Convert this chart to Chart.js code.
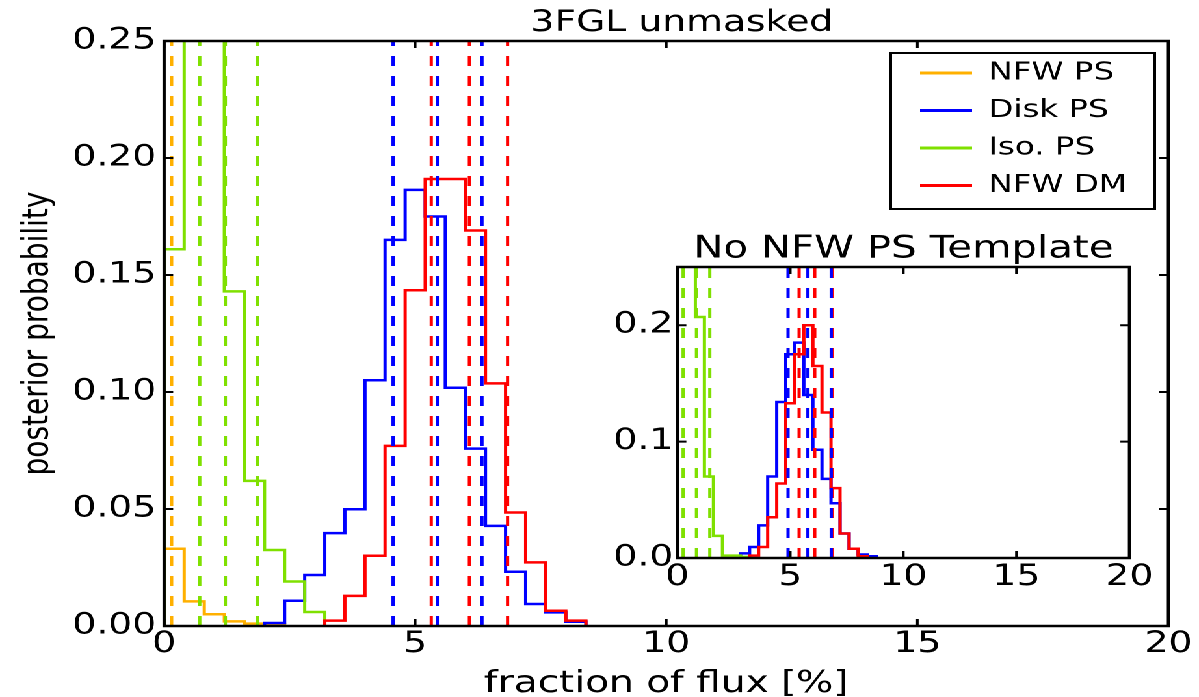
<!DOCTYPE html>
<html>
<head>
<meta charset="utf-8">
<title>3FGL unmasked</title>
<script src="https://cdn.jsdelivr.net/npm/chart.js@4/dist/chart.umd.min.js"></script>
<style>
  html, body { margin: 0; padding: 0; background: #fff; overflow: hidden; }
  /* the figure is drawn narrow and stretched sideways, like the source image */
  #stretch { position: relative; width: 922px; height: 697px; transform: scaleX(1.3004); transform-origin: 0 0; }
  #mainChart { position: absolute; left: 0; top: 0; }
  #insetChart { position: absolute; left: 460px; top: 228px; }
</style>
</head>
<body>
<div id="stretch">
  <canvas id="mainChart" width="922" height="697"></canvas>
  <canvas id="insetChart" width="432" height="372"></canvas>
</div>
<script>
const seriesNames = ['NFW PS', 'Disk PS', 'Iso. PS', 'NFW DM'];
const seriesColors = ['#ffb000', '#0000ff', '#7fe000', '#ff0000'];
const binWidth = 0.4;

// main panel: histogram heights per bin, first bin starts at *Start
const nfwPsStart = 0.0;
const nfwPsHist = [0.033, 0.0105, 0.005, 0.002, 0.001, 0.0008];
const diskPsStart = 2.0;
const diskPsHist = [0.0013, 0.0108, 0.0218, 0.0397, 0.0499, 0.105, 0.165, 0.1864, 0.175, 0.1018,
                    0.0758, 0.0428, 0.0232, 0.0094, 0.0058, 0.0018];
const isoPsStart = 0.0;
const isoPsHist = [0.161, 0.3, 0.3, 0.143, 0.062, 0.0325, 0.019, 0.006];
const nfwDmStart = 3.2;
const nfwDmHist = [0.0023, 0.0129, 0.030, 0.077, 0.1435, 0.191, 0.191, 0.169, 0.1037, 0.0485,
                   0.0272, 0.0065, 0.0023];

// dashed lines (median and 68% band)
const nfwPsLines = [0.15];
const diskPsLines = [4.56, 5.44, 6.33];
const isoPsLines = [0.71, 1.22, 1.86];
const nfwDmLines = [5.32, 6.08, 6.84];

// inset: no NFW PS template
const insetDiskStart = 2.8;
const insetDiskHist = [0.004, 0.0095, 0.028, 0.07, 0.134, 0.175, 0.185, 0.14, 0.093, 0.068,
                       0.047, 0.021, 0.008, 0.003, 0.0015];
const insetIsoStart = 0.0;
const insetIsoHist = [0.3, 0.3, 0.207, 0.07, 0.019, 0.002, 0.002, 0.001];
const insetDmStart = 3.2;
const insetDmHist = [0.002, 0.0095, 0.035, 0.064, 0.133, 0.175, 0.20, 0.165, 0.125, 0.06,
                     0.021, 0.008, 0.0015];
const insetDiskLines = [4.9, 5.78, 6.81];
const insetIsoLines = [0.26, 0.85, 1.44];
const insetDmLines = [5.39, 6.08, 6.84];

const mainYMax = 0.25;
const insetYMax = 0.25;

Chart.defaults.font.family = 'DejaVu Sans';
Chart.defaults.color = '#000';

function stepPoints(start, hist) {
    const pts = [{ x: start, y: 0 }];
    hist.forEach((h, i) => {
        pts.push({ x: start + i * binWidth, y: h });
        pts.push({ x: start + (i + 1) * binWidth, y: h });
    });
    pts.push({ x: start + hist.length * binWidth, y: 0 });
    return pts;
}

function histSet(start, hist, color, order) {
    return {
        data: stepPoints(start, hist),
        borderColor: color,
        backgroundColor: color,
        borderWidth: 2.5,
        pointRadius: 0,
        fill: false,
        tension: 0,
        order: order
    };
}

function dashedSets(lines, color, yMax) {
    return lines.map(x => ({
        data: [{ x: x, y: 0 }, { x: x, y: yMax }],
        borderColor: color,
        borderWidth: 2.5,
        borderDash: [10, 10],
        pointRadius: 0,
        fill: false,
        order: 0
    }));
}

// box round the plot with ticks pointing inwards
const frame = {
    id: 'frame',
    afterDraw(chart) {
        const { ctx, chartArea: a, scales: { x, y } } = chart;
        const len = 7;
        ctx.save();
        ctx.strokeStyle = '#000';
        ctx.lineWidth = 2.5;
        ctx.strokeRect(a.left, a.top, a.right - a.left, a.bottom - a.top);
        ctx.lineWidth = 2;
        ctx.beginPath();
        x.ticks.forEach(t => {
            const px = x.getPixelForValue(t.value);
            ctx.moveTo(px, a.bottom); ctx.lineTo(px, a.bottom - len);
            ctx.moveTo(px, a.top); ctx.lineTo(px, a.top + len);
        });
        y.ticks.forEach(t => {
            const py = y.getPixelForValue(t.value);
            ctx.moveTo(a.left, py); ctx.lineTo(a.left + len, py);
            ctx.moveTo(a.right, py); ctx.lineTo(a.right - len, py);
        });
        ctx.stroke();
        ctx.restore();
    }
};

// legend sits in the upper right of the plot, with a frame; title a bit right of centre
const legendBox = { left: 685, top: 53, right: 888, bottom: 209 };
const titleShift = 12;
const placeBoxes = {
    id: 'placeBoxes',
    beforeDraw(chart) {
        const lg = chart.legend;
        lg.left = legendBox.left + 10;
        lg.right = legendBox.right;
        lg.top = legendBox.top - 5;
        lg.bottom = legendBox.bottom + 100;
        const tb = chart.titleBlock;
        tb.left = chart.chartArea.left + titleShift;
        tb.right = chart.chartArea.right + titleShift;
    },
    afterDraw(chart) {
        const ctx = chart.ctx;
        ctx.save();
        ctx.strokeStyle = '#000';
        ctx.lineWidth = 2;
        ctx.strokeRect(legendBox.left, legendBox.top, legendBox.right - legendBox.left, legendBox.bottom - legendBox.top);
        ctx.restore();
    }
};

function axisOptions(min, max, step, digits, fontSize, pad, fit) {
    return {
        type: 'linear',
        min: min,
        max: max,
        ticks: {
            stepSize: step,
            includeBounds: false,
            font: { size: fontSize, lineHeight: 1 },
            padding: pad,
            maxRotation: 0,
            autoSkip: false,
            callback: v => digits === null ? String(v) : v.toFixed(digits)
        },
        grid: { display: false, drawTicks: false },
        border: { display: false },
        afterFit: fit
    };
}

const mainX = axisOptions(0, 20, 5, null, 29, 4, s => { s.height = 71; });
mainX.title = { display: true, text: 'fraction of flux [%]', font: { size: 30, lineHeight: 1 }, padding: { top: 0, bottom: -2 } };
const mainY = axisOptions(0, mainYMax, 0.05, 2, 29, 6, s => { s.width = 126.2; });
mainY.title = { display: true, text: 'posterior probability', font: { size: 28, lineHeight: 1 }, padding: { top: 15, bottom: 0 } };

new Chart(document.getElementById('mainChart'), {
    type: 'line',
    data: {
        datasets: [
            histSet(nfwPsStart, nfwPsHist, seriesColors[0], 4),
            histSet(diskPsStart, diskPsHist, seriesColors[1], 3),
            histSet(isoPsStart, isoPsHist, seriesColors[2], 2),
            histSet(nfwDmStart, nfwDmHist, seriesColors[3], 1),
            ...dashedSets(nfwPsLines, seriesColors[0], mainYMax),
            ...dashedSets(diskPsLines, seriesColors[1], mainYMax),
            ...dashedSets(isoPsLines, seriesColors[2], mainYMax),
            ...dashedSets(nfwDmLines, seriesColors[3], mainYMax)
        ]
    },
    options: {
        responsive: false,
        animation: false,
        devicePixelRatio: 2,
        layout: { padding: { left: 0, right: 23.5, top: 0, bottom: 0 } },
        plugins: {
            title: {
                display: true,
                text: '3FGL unmasked',
                fullSize: false,
                font: { size: 29, weight: 'normal', lineHeight: 1 },
                padding: { top: 9, bottom: 3 }
            },
            legend: {
                position: 'chartArea',
                align: 'start',
                labels: {
                    boxWidth: 40,
                    boxHeight: 3,
                    padding: 12.5,
                    font: { size: 25 },
                    generateLabels: () => seriesNames.map((name, i) => ({
                        text: name,
                        fillStyle: seriesColors[i],
                        strokeStyle: seriesColors[i],
                        lineWidth: 0,
                        hidden: false,
                        datasetIndex: i
                    }))
                }
            },
            tooltip: { enabled: false }
        },
        scales: { x: mainX, y: mainY }
    },
    plugins: [frame, placeBoxes]
});

const insetX = axisOptions(0, 20, 5, null, 29, 5, s => { s.height = 42; });
const insetY = axisOptions(0, insetYMax, 0.1, 1, 29, 3, s => { s.width = 60.8; });

new Chart(document.getElementById('insetChart'), {
    type: 'line',
    data: {
        datasets: [
            histSet(insetDiskStart, insetDiskHist, seriesColors[1], 3),
            histSet(insetIsoStart, insetIsoHist, seriesColors[2], 2),
            histSet(insetDmStart, insetDmHist, seriesColors[3], 1),
            ...dashedSets(insetDiskLines, seriesColors[1], insetYMax),
            ...dashedSets(insetIsoLines, seriesColors[2], insetYMax),
            ...dashedSets(insetDmLines, seriesColors[3], insetYMax)
        ]
    },
    options: {
        responsive: false,
        animation: false,
        devicePixelRatio: 2,
        layout: { padding: { left: 0, right: 22, top: 0, bottom: 0 } },
        plugins: {
            title: {
                display: true,
                text: 'No NFW PS Template',
                fullSize: false,
                font: { size: 31, weight: 'normal', lineHeight: 1 },
                padding: { top: 6, bottom: 2 }
            },
            legend: { display: false },
            tooltip: { enabled: false }
        },
        scales: { x: insetX, y: insetY }
    },
    plugins: [frame]
});
</script>
</body>
</html>
